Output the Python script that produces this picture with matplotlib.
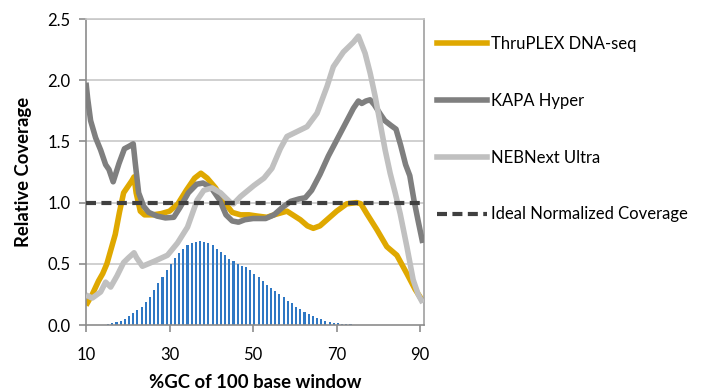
import matplotlib
matplotlib.use("Agg")
import matplotlib.pyplot as plt
from matplotlib.lines import Line2D

plt.rcParams['font.family'] = ['Lato', 'DejaVu Sans']

# ---- data ----
thru_gc = [10.0, 11.5, 13.0, 14.0, 15.0, 16.0, 17.0, 18.0, 19.0, 20.0, 21.0, 21.5, 22.0, 23.0, 24.0,
           26.0, 28.0, 30.0, 32.0, 34.0, 36.0, 37.5, 39.0, 41.0, 43.0, 45.0, 47.0, 49.0, 51.0, 53.3,
           55.0, 58.1, 61.3, 63.0, 64.4, 66.0, 68.0, 70.0, 72.4, 74.8, 75.8, 77.2, 79.6, 82.0, 84.4,
           86.8, 88.8, 90.7]
thru_val = [0.16, 0.25, 0.36, 0.42, 0.50, 0.62, 0.74, 0.92, 1.08, 1.13, 1.18, 1.21, 1.08, 0.93, 0.90,
            0.90, 0.91, 0.93, 0.99, 1.10, 1.20, 1.24, 1.20, 1.12, 1.01, 0.92, 0.90, 0.90, 0.89, 0.88,
            0.90, 0.93, 0.86, 0.81, 0.79, 0.81, 0.87, 0.93, 0.99, 1.00, 0.99, 0.91, 0.78, 0.64, 0.57,
            0.42, 0.29, 0.19]

kapa_gc = [10.0, 10.4, 11.1, 12.3, 13.5, 14.7, 15.5, 16.5, 17.9, 19.2, 20.3, 21.3, 21.8, 22.6, 23.8,
           25.0, 27.0, 29.0, 31.0, 32.5, 34.5, 36.5, 38.0, 40.0, 42.0, 43.5, 45.0, 46.5, 48.0, 50.0,
           53.0, 55.0, 57.0, 59.0, 61.0, 62.5, 64.0, 66.0, 68.0, 70.0, 72.0, 74.0, 75.2, 76.0, 77.0,
           78.0, 79.0, 80.5, 81.5, 83.0, 84.2, 85.3, 86.5, 87.5, 88.5, 89.5, 90.6]
kapa_val = [1.98, 1.85, 1.67, 1.53, 1.43, 1.31, 1.27, 1.17, 1.32, 1.44, 1.46, 1.48, 1.32, 1.08, 0.97,
            0.92, 0.89, 0.875, 0.88, 0.96, 1.08, 1.15, 1.16, 1.12, 1.02, 0.90, 0.85, 0.84, 0.86, 0.87,
            0.87, 0.90, 0.96, 1.01, 1.03, 1.04, 1.10, 1.23, 1.38, 1.51, 1.64, 1.77, 1.83, 1.81, 1.83,
            1.84, 1.80, 1.72, 1.67, 1.63, 1.60, 1.47, 1.31, 1.22, 1.02, 0.85, 0.67]

neb_gc = [10.0, 11.5, 13.5, 14.7, 15.9, 17.4, 19.0, 20.2, 21.5, 22.1, 23.5, 26.3, 29.5, 31.9, 34.3,
          36.6, 38.2, 40.2, 42.2, 44.6, 45.3, 47.0, 50.2, 52.6, 54.5, 56.5, 58.1, 60.5, 62.9, 65.3,
          67.7, 69.2, 71.6, 74.0, 75.2, 76.8, 78.0, 79.2, 80.4, 81.6, 82.8, 84.0, 85.2, 86.8, 88.3,
          89.5, 90.6]
neb_val = [0.245, 0.22, 0.27, 0.35, 0.31, 0.40, 0.51, 0.55, 0.59, 0.55, 0.48, 0.52, 0.57, 0.67, 0.80,
           1.02, 1.10, 1.12, 1.08, 1.00, 0.99, 1.05, 1.14, 1.20, 1.28, 1.44, 1.54, 1.58, 1.62, 1.73,
           1.95, 2.11, 2.23, 2.31, 2.36, 2.22, 2.06, 1.87, 1.65, 1.43, 1.24, 1.08, 0.91, 0.64, 0.37,
           0.25, 0.18]

ideal_x = [10, 90.9]
ideal_val = [1.0, 1.0]

hist_gc = list(range(14, 78))
hist_val = [0.003, 0.008, 0.015, 0.025, 0.035, 0.046, 0.07, 0.095, 0.12, 0.15, 0.19, 0.23, 0.29,
            0.34, 0.39, 0.45, 0.50, 0.55, 0.59, 0.62, 0.65, 0.67, 0.68, 0.69, 0.68, 0.67, 0.65,
            0.62, 0.60, 0.57, 0.54, 0.52, 0.50, 0.48, 0.47, 0.45, 0.42, 0.39, 0.36, 0.33, 0.30,
            0.28, 0.25, 0.23, 0.20, 0.18, 0.15, 0.13, 0.11, 0.09, 0.07, 0.06, 0.05, 0.035, 0.027,
            0.02, 0.014, 0.01, 0.007, 0.005, 0.004, 0.003, 0.002, 0.001]

x_ticks = [10, 30, 50, 70, 90]
y_ticks = [0.0, 0.5, 1.0, 1.5, 2.0, 2.5]
y_ticklabels = ['0.0', '0.5', '1.0', '1.5', '2.0', '2.5']
labels = ['ThruPLEX DNA-seq', 'KAPA Hyper', 'NEBNext Ultra', 'Ideal Normalized Coverage']

# ---- figure ----
W, H = 706, 392
fig = plt.figure(figsize=(W / 100, H / 100), dpi=100)
ax = fig.add_axes([86 / W, 1 - 325 / H, (424 - 86) / W, (325 - 19) / H])

grid_c = '#c8c8c8'
for yv in y_ticks[1:]:
    ax.axhline(yv, color=grid_c, lw=1.2, zorder=0)

ax.bar([g + 0.3 for g in hist_gc], hist_val, width=0.5, color='#2f78c4', zorder=1, linewidth=0)

gold = '#dfa800'
dark = '#7f7f7f'
light = '#c0c0c0'
lw = 4.0
ax.plot(thru_gc, thru_val, color=gold, lw=lw, solid_capstyle='butt', solid_joinstyle='round', zorder=2)
ax.plot(kapa_gc, kapa_val, color=dark, lw=lw, solid_capstyle='butt', solid_joinstyle='round', zorder=3)
ax.plot(neb_gc, neb_val, color=light, lw=lw, solid_capstyle='butt', solid_joinstyle='round', zorder=4)
ax.plot(ideal_x, ideal_val, color='#404040', lw=3.0, dashes=(2.4, 1.3), dash_capstyle='butt', zorder=5)

ax.set_xlim(10, 90.9)
ax.set_ylim(0, 2.5)
ax.set_xticks(x_ticks)
ax.set_xticklabels([str(t) for t in x_ticks])
ax.set_yticks(y_ticks)
ax.set_yticklabels(y_ticklabels)

for s in ['left', 'bottom']:
    ax.spines[s].set_color('#8c8c8c')
    ax.spines[s].set_linewidth(1.2)
ax.spines['right'].set_color('#a0a0a0')
ax.spines['right'].set_linewidth(1.2)
ax.spines['top'].set_color(grid_c)
ax.spines['top'].set_linewidth(1.2)

ax.tick_params(axis='x', direction='out', length=5, width=1.2, color='#8c8c8c', pad=11,
               labelsize=12, labelcolor='black')
ax.tick_params(axis='y', direction='out', length=5, width=1.2, color='#8c8c8c', pad=6,
               labelsize=12, labelcolor='black')

ax.set_xlabel('%GC of 100 base window', fontsize=13.3, fontweight='bold', labelpad=8)
ax.set_ylabel('Relative Coverage', fontsize=13.3, fontweight='bold', labelpad=11)

handles = [Line2D([], [], color=gold, lw=lw),
           Line2D([], [], color=dark, lw=lw),
           Line2D([], [], color=light, lw=lw),
           Line2D([], [], color='#404040', lw=3.0, dashes=(2.4, 1.3))]
fig.legend(handles, labels, loc='upper left', bbox_to_anchor=(437 / W, 1 - 36 / H),
           bbox_transform=fig.transFigure, frameon=False, fontsize=12,
           handlelength=3.0, handletextpad=0.25, labelspacing=2.45, borderpad=0, borderaxespad=0)

fig.savefig('out.png', dpi=100)
